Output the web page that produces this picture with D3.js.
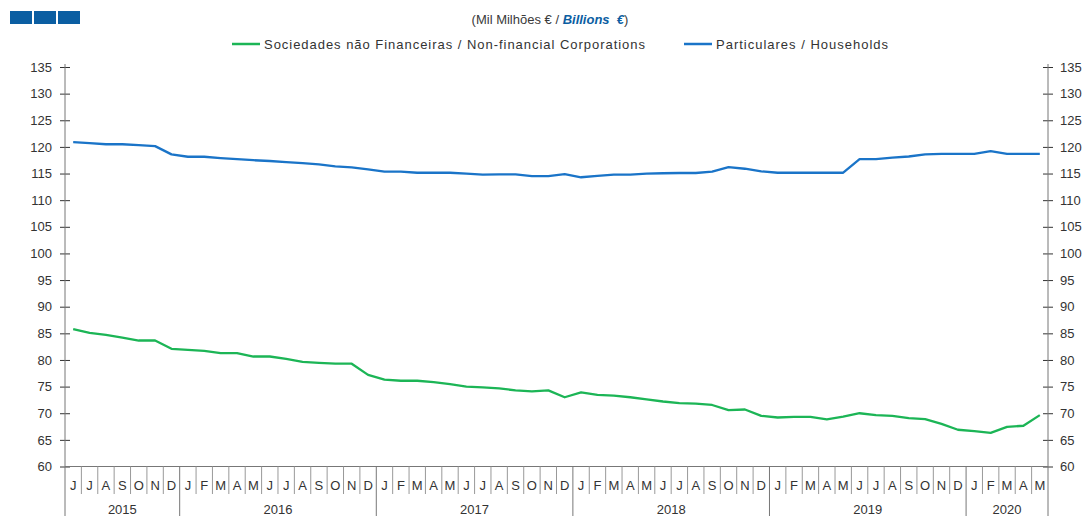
<!DOCTYPE html>
<html><head><meta charset="utf-8">
<script src="https://cdn.jsdelivr.net/npm/d3@7"></script>
<style>body{margin:0;background:#fff}svg{display:block;font-family:"Liberation Sans",Arial,sans-serif}</style>
</head><body><svg id="c" width="1091" height="516"></svg>
<script>
const monthLabels = ["J","J","A","S","O","N","D",
 "J","F","M","A","M","J","J","A","S","O","N","D",
 "J","F","M","A","M","J","J","A","S","O","N","D",
 "J","F","M","A","M","J","J","A","S","O","N","D",
 "J","F","M","A","M","J","J","A","S","O","N","D",
 "J","F","M","A","M"];
const years = ["2015","2016","2017","2018","2019","2020"];
const yearMonths = [7,12,12,12,12,5];
const nfc = [85.8,85.1,84.7,84.2,83.65,83.65,82.1,
 81.9,81.7,81.3,81.3,80.65,80.65,80.2,79.65,79.45,79.3,79.3,77.2,
 76.3,76.1,76.1,75.85,75.45,75.0,74.85,74.65,74.3,74.1,74.3,73.0,
 73.9,73.45,73.3,73.0,72.6,72.2,71.9,71.8,71.55,70.6,70.7,69.5,
 69.2,69.3,69.3,68.85,69.35,70.0,69.65,69.5,69.1,68.9,68.0,66.9,
 66.65,66.3,67.45,67.65,69.65];
const households = [120.9,120.7,120.5,120.5,120.35,120.15,118.6,
 118.15,118.15,117.9,117.7,117.5,117.35,117.15,116.95,116.7,116.35,116.15,115.8,
 115.35,115.35,115.15,115.15,115.15,115.0,114.8,114.85,114.85,114.5,114.5,114.9,
 114.3,114.55,114.8,114.8,115.0,115.05,115.1,115.1,115.35,116.2,115.9,115.4,
 115.15,115.15,115.15,115.15,115.15,117.7,117.7,118.0,118.2,118.6,118.7,118.7,
 118.7,119.2,118.7,118.7,118.7];
const yTicks = d3.range(60,136,5);
const seriesNames = ["Sociedades não Financeiras / Non-financial Corporations","Particulares / Households"];
const seriesColors = ["#1cb556","#1a74c8"];

const svg = d3.select("#c");
const L=65,R=1048,T=67,B=466.5;
const x = d3.scaleBand().domain(d3.range(monthLabels.length)).range([L,R]).padding(0);
const y = d3.scaleLinear().domain([60,135]).range([B,T]);

// top-left squares
svg.append("g").selectAll("rect").data([0,1,2]).join("rect")
  .attr("x",d=>10+d*24).attr("y",11).attr("width",22).attr("height",13).attr("fill","#0b5ea2");

// subtitle
const sub = svg.append("text").attr("x",550).attr("y",24).attr("text-anchor","middle").attr("font-size",13).attr("fill","#3a3a3a");
sub.append("tspan").text("(Mil Milhões € / ");
sub.append("tspan").attr("font-weight","bold").attr("font-style","italic").attr("fill","#0b5ea2").text("Billions\u00a0\u00a0€");
sub.append("tspan").text(")");

// legend
const leg = [{x:232,w:381},{x:684,w:172}];
leg.forEach((l,i)=>{
  svg.append("line").attr("x1",l.x).attr("x2",l.x+28).attr("y1",44).attr("y2",44).attr("stroke",seriesColors[i]).attr("stroke-width",2.5);
  svg.append("text").attr("x",l.x+32).attr("y",49).attr("font-size",13).attr("fill","#333")
    .attr("textLength",l.w).attr("lengthAdjust","spacing").text(seriesNames[i]);
});

// y axes
function yAxis(side){
  const g = svg.append("g").attr("transform",`translate(${side==="left"?L:R},0)`);
  const ax = (side==="left"?d3.axisLeft(y):d3.axisRight(y)).tickValues(yTicks).tickSizeInner(5).tickSizeOuter(0).tickPadding(8);
  g.call(ax);
  g.select(".domain").remove();
  g.selectAll(".tick line").attr("x1",-5).attr("x2",5).attr("stroke","#333");
  g.selectAll(".tick text").attr("font-size",13).attr("fill","#333").attr("font-family","Liberation Sans, Arial, sans-serif")
    .attr("x",side==="left"?-13:12);
  g.append("line").attr("x1",0).attr("x2",0).attr("y1",T-3).attr("y2",516).attr("stroke","#777");
}
yAxis("left"); yAxis("right");

// x baseline
svg.append("line").attr("x1",L).attr("x2",R).attr("y1",B).attr("y2",B).attr("stroke","#777");

// month separators and labels
const bw = x.bandwidth();
const yearStarts = [];
let acc=0; yearMonths.forEach(n=>{yearStarts.push(acc); acc+=n;});
const gx = svg.append("g");
d3.range(1,monthLabels.length).forEach(i=>{
  const isYear = yearStarts.includes(i);
  gx.append("line").attr("x1",x(i)).attr("x2",x(i)).attr("y1",B).attr("y2",isYear?516:494).attr("stroke",isYear?"#777":"#999");
});
gx.selectAll("text.m").data(monthLabels).join("text").attr("class","m")
  .attr("x",(d,i)=>x(i)+bw/2).attr("y",490).attr("text-anchor","middle").attr("font-size",13).attr("fill","#333").text(d=>d);
gx.selectAll("text.yr").data(years).join("text").attr("class","yr")
  .attr("x",(d,i)=>(x(yearStarts[i])+x(yearStarts[i]+yearMonths[i]-1)+bw)/2).attr("y",514)
  .attr("text-anchor","middle").attr("font-size",13).attr("fill","#333").text(d=>d);

// lines
const line = d3.line().x((d,i)=>x(i)+bw/2).y(d=>y(d));
[nfc,households].forEach((s,i)=>{
  svg.append("path").datum(s).attr("d",line).attr("fill","none").attr("stroke",seriesColors[i]).attr("stroke-width",2.3).attr("stroke-linejoin","round");
});
</script></body></html>
